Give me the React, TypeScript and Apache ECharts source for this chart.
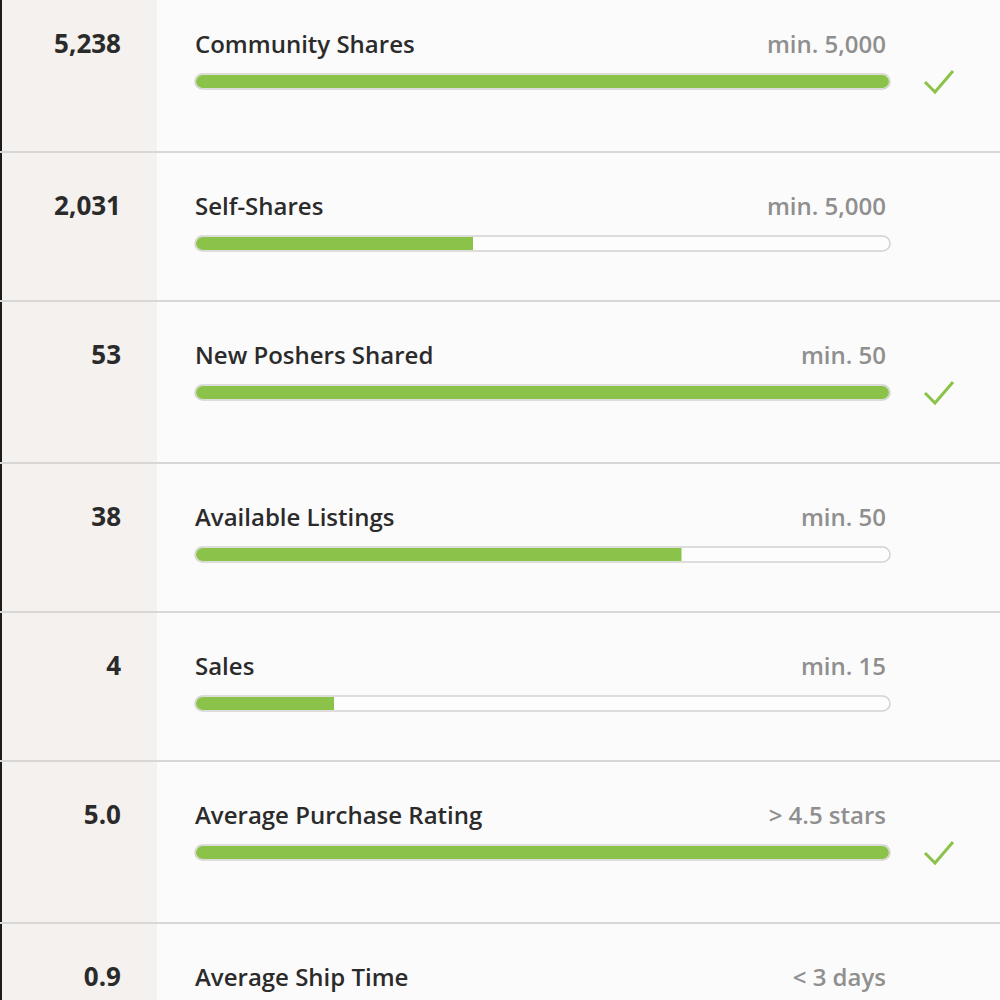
import React, { useEffect, useRef } from "react";
import * as echarts from "echarts";

const metrics = [
  "Community Shares",
  "Self-Shares",
  "New Poshers Shared",
  "Available Listings",
  "Sales",
  "Average Purchase Rating",
  "Average Ship Time",
];
const values = ["5,238", "2,031", "53", "38", "4", "5.0", "0.9"];
const targets = ["min. 5,000", "min. 5,000", "min. 50", "min. 50", "min. 15", "> 4.5 stars", "< 3 days"];
const progress = [1, 0.4, 1, 0.7, 0.2, 1, 1];
const met = [true, false, true, false, false, true, true];

const TALL = 162;
const SHORT = 149;
const START = -10;

const rowTops: number[] = [];
{
  let t = START;
  for (let i = 0; i < metrics.length; i++) {
    rowTops.push(t);
    t += met[i] ? TALL : SHORT;
  }
}

const FONT = "'Open Sans', 'Noto Sans', sans-serif";
const GREEN = "#8bc34a";

export default function App() {
  const ref = useRef<HTMLDivElement>(null);
  useEffect(() => {
    document.body.style.margin = "0";
    const chart = echarts.init(ref.current!, null, { renderer: "svg" });
    const data = metrics.map((m, i) => [progress[i], rowTops[i], i]);
    chart.setOption({
      animation: false,
      backgroundColor: "#fcfbfb",
      grid: { left: 195, right: 110, top: 0, bottom: 0 },
      xAxis: { type: "value", min: 0, max: 1, show: false },
      yAxis: { type: "value", min: 0, max: 1000, inverse: true, show: false },
      graphic: [
        { type: "rect", z: -10, shape: { x: 0, y: 0, width: 157, height: 1000 }, style: { fill: "#f4f1ee" } },
        { type: "rect", z: -9, shape: { x: 0, y: 0, width: 2, height: 1000 }, style: { fill: "#1c1c1c" } },
      ],
      series: [
        {
          type: "custom",
          clip: false,
          data,
          renderItem: (params: any, api: any) => {
            const p = api.value(0);
            const top = api.value(1);
            const idx = api.value(2);
            const h = met[idx] ? TALL : SHORT;
            const y0 = api.coord([0, top])[1];
            const xs = api.coord([0, 0])[0];
            const xe = api.coord([1, 0])[0];
            const xf = api.coord([p, 0])[0];
            const children: any[] = [];
            children.push({
              type: "line",
              shape: { x1: 0, y1: y0 + h, x2: 1000, y2: y0 + h },
              style: { stroke: "#d9d7d6", lineWidth: 2 },
            });
            children.push({
              type: "text",
              style: {
                x: 121, y: y0 + 53, text: values[idx], align: "right", verticalAlign: "middle",
                font: `700 26px ${FONT}`, fill: "#2a2a2a",
              },
            });
            children.push({
              type: "text",
              style: {
                x: 195, y: y0 + 53, text: metrics[idx], align: "left", verticalAlign: "middle",
                font: `600 24px ${FONT}`, fill: "#2b2b2b",
              },
            });
            children.push({
              type: "text",
              style: {
                x: 886, y: y0 + 53, text: targets[idx], align: "right", verticalAlign: "middle",
                font: `600 24px ${FONT}`, fill: "#8f8f8f",
              },
            });
            children.push({
              type: "rect",
              shape: { x: xs, y: y0 + 84, width: xe - xs, height: 15, r: 7.5 },
              style: { fill: "#fdfdfd", stroke: "#d2d2d0", lineWidth: 1.5 },
            });
            children.push({
              type: "rect",
              shape: {
                x: xs + 1, y: y0 + 85, width: xf - xs - (p >= 1 ? 2 : 1), height: 13,
                r: p >= 1 ? 6.5 : [6.5, 0, 0, 6.5],
              },
              style: { fill: GREEN },
            });
            if (met[idx]) {
              children.push({
                type: "polyline",
                shape: { points: [[925, y0 + 92], [935, y0 + 102], [953, y0 + 81]] },
                style: { stroke: GREEN, lineWidth: 3, fill: null },
              });
            }
            return { type: "group", children };
          },
        },
      ],
    });
    return () => chart.dispose();
  }, []);
  return <div ref={ref} style={{ position: "absolute", left: 0, top: 0, width: 1000, height: 1000 }} />;
}
